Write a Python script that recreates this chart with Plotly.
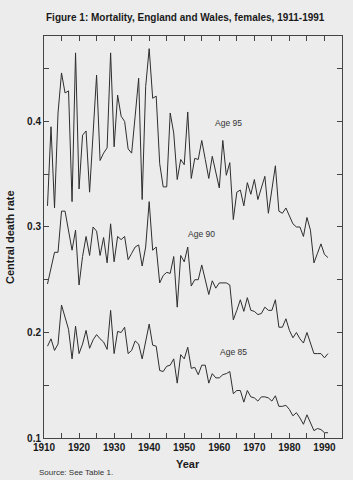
import plotly.graph_objects as go

years = list(range(1911, 1992))

age95 = [0.320, 0.395, 0.318, 0.408, 0.446, 0.427, 0.429, 0.324, 0.465, 0.336,
         0.387, 0.391, 0.333, 0.385, 0.444, 0.363, 0.370, 0.375, 0.465, 0.376,
         0.425, 0.405, 0.400, 0.374, 0.370, 0.405, 0.441, 0.326, 0.433, 0.469,
         0.422, 0.424, 0.360, 0.338, 0.338, 0.408, 0.389, 0.345, 0.364, 0.359,
         0.409, 0.346, 0.365, 0.364, 0.382, 0.364, 0.346, 0.367, 0.352, 0.337,
         0.382, 0.349, 0.361, 0.307, 0.333, 0.335, 0.320, 0.342, 0.331, 0.345,
         0.326, 0.337, 0.348, 0.313, 0.338, 0.358, 0.315, 0.313, 0.318, 0.311,
         0.303, 0.300, 0.300, 0.291, 0.309, 0.297, 0.266, 0.275, 0.284, 0.274,
         0.271]

age90 = [0.246, 0.261, 0.276, 0.276, 0.315, 0.315, 0.298, 0.278, 0.297, 0.245,
         0.272, 0.291, 0.273, 0.300, 0.296, 0.273, 0.290, 0.266, 0.303, 0.267,
         0.291, 0.288, 0.291, 0.269, 0.275, 0.281, 0.283, 0.263, 0.281, 0.324,
         0.278, 0.281, 0.247, 0.254, 0.257, 0.256, 0.272, 0.224, 0.273, 0.267,
         0.281, 0.244, 0.250, 0.250, 0.264, 0.250, 0.236, 0.249, 0.242, 0.247,
         0.247, 0.247, 0.245, 0.212, 0.221, 0.231, 0.220, 0.233, 0.221, 0.220,
         0.217, 0.218, 0.224, 0.221, 0.221, 0.231, 0.205, 0.205, 0.213, 0.202,
         0.195, 0.200, 0.194, 0.190, 0.200, 0.190, 0.180, 0.180, 0.180, 0.176,
         0.180]

age85 = [0.187, 0.194, 0.183, 0.189, 0.226, 0.215, 0.203, 0.175, 0.206, 0.180,
         0.189, 0.202, 0.185, 0.193, 0.198, 0.194, 0.191, 0.184, 0.221, 0.180,
         0.201, 0.200, 0.205, 0.180, 0.183, 0.192, 0.189, 0.175, 0.191, 0.208,
         0.188, 0.187, 0.164, 0.163, 0.168, 0.169, 0.175, 0.152, 0.179, 0.175,
         0.186, 0.166, 0.167, 0.160, 0.169, 0.169, 0.152, 0.161, 0.157, 0.157,
         0.160, 0.161, 0.163, 0.142, 0.145, 0.145, 0.134, 0.145, 0.139, 0.138,
         0.135, 0.139, 0.139, 0.138, 0.135, 0.140, 0.130, 0.130, 0.131, 0.127,
         0.121, 0.124, 0.119, 0.113, 0.122, 0.115, 0.107, 0.109, 0.108, 0.105,
         0.105]

series_names = ["Age 95", "Age 90", "Age 85"]
label_x = [1962.7, 1955.0, 1964.0]
label_y = [0.399, 0.293, 0.1815]

title_text = "Figure 1: Mortality, England and Wales, females, 1911-1991"
x_title = "Year"
y_title = "Central death rate"
source_text = "Source: See Table 1."

FONT = "Liberation Sans, Arial, Helvetica, sans-serif"
LINE = "#2e2e2e"
BG = "#ececec"

fig = go.Figure()
for name, vals in zip(series_names, [age95, age90, age85]):
    fig.add_trace(go.Scatter(x=years, y=vals, mode="lines", name=name,
                             line=dict(color=LINE, width=1), showlegend=False,
                             hoverinfo="skip"))

for name, lx, ly in zip(series_names, label_x, label_y):
    fig.add_annotation(x=lx, y=ly, xref="x", yref="y", text=name, showarrow=False,
                       font=dict(family=FONT, size=8.5, color="#333"))

fig.add_annotation(x=0.475, y=1.0, xref="paper", yref="paper", yshift=19,
                   text="<b>" + title_text + "</b>", showarrow=False,
                   xanchor="center", yanchor="middle",
                   font=dict(family=FONT, size=10, color="#1a1a1a"))
fig.add_annotation(x=0.483, y=0, xref="paper", yref="paper", yshift=-26,
                   text="<b>" + x_title + "</b>", showarrow=False,
                   xanchor="center", yanchor="middle",
                   font=dict(family=FONT, size=11, color="#1a1a1a"))
fig.add_annotation(x=0, y=0.5, xref="paper", yref="paper", xshift=-34,
                   text="<b>" + y_title + "</b>", showarrow=False, textangle=-90,
                   xanchor="center", yanchor="middle",
                   font=dict(family=FONT, size=11, color="#1a1a1a"))
fig.add_annotation(x=0, y=0, xref="paper", yref="paper", xshift=-7, yshift=-34,
                   text=source_text, showarrow=False,
                   xanchor="left", yanchor="middle",
                   font=dict(family=FONT, size=8, color="#333"))

axis_common = dict(showline=True, linecolor="#444", linewidth=1, mirror="allticks",
                   ticks="inside", ticklen=5, tickcolor="#444", tickwidth=1,
                   showgrid=False, zeroline=False,
                   tickfont=dict(family=FONT, size=10, color="#1a1a1a"))

fig.update_xaxes(range=[1910, 1995], tickvals=[1910, 1920, 1930, 1940, 1950, 1960, 1970, 1980, 1990],
                 ticktext=["<b>%d</b>" % v for v in [1910, 1920, 1930, 1940, 1950, 1960, 1970, 1980, 1990]],
                 minor=dict(dtick=5, tick0=1910, ticks="inside", ticklen=5, tickcolor="#444", showgrid=False),
                 **axis_common)
fig.update_yaxes(range=[0.1, 0.481], tickvals=[0.1, 0.2, 0.3, 0.4],
                 ticktext=["<b>0.1</b>", "<b>0.2</b>", "<b>0.3</b>", "<b>0.4</b>"],
                 minor=dict(dtick=0.05, tick0=0.1, ticks="inside", ticklen=5, tickcolor="#444", showgrid=False),
                 **axis_common)

fig.update_layout(width=353, height=480, margin=dict(l=44, r=11, t=36, b=42),
                  paper_bgcolor=BG, plot_bgcolor=BG, showlegend=False)

fig.write_html("out.html")
